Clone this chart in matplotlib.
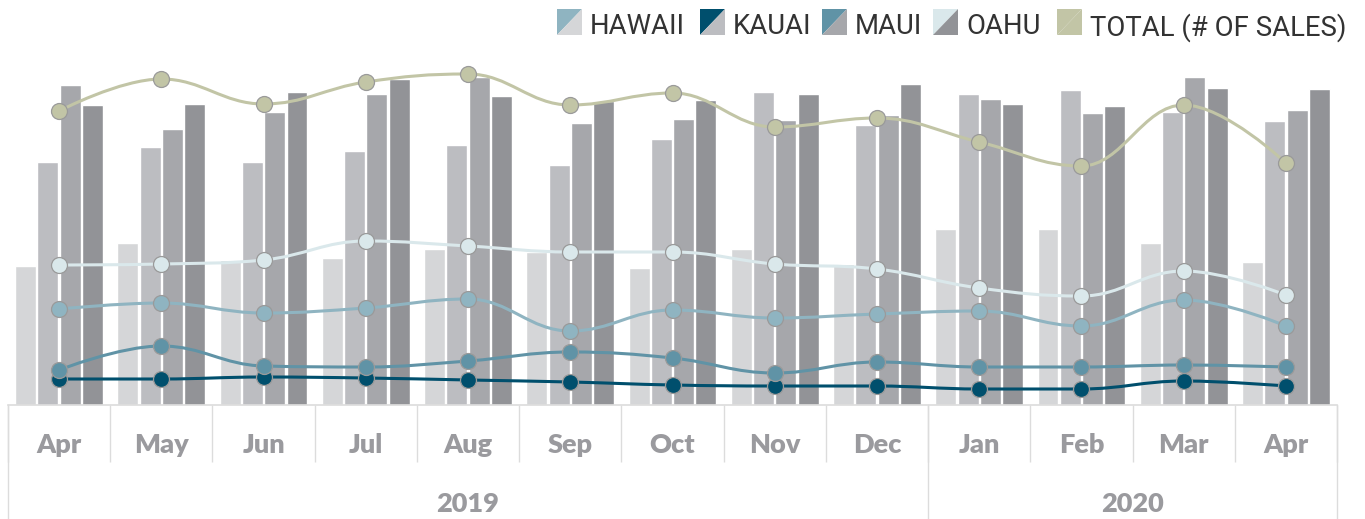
import numpy as np
import matplotlib
matplotlib.use('Agg')
import matplotlib.pyplot as plt
from matplotlib.path import Path
from matplotlib.patches import PathPatch, Polygon

# Monate (Apr 2019 - Apr 2020)
months = ['Apr', 'May', 'Jun', 'Jul', 'Aug', 'Sep', 'Oct', 'Nov', 'Dec',
          'Jan', 'Feb', 'Mar', 'Apr']
years = ['2019', '2020']
year_counts = [9, 4]

# Balken
hawaii_bar = [139, 162, 145, 147, 156, 153, 137, 156, 141, 176, 176, 162, 143]
kauai_bar = [243, 258, 243, 254, 260, 240, 266, 313, 280, 311, 315, 293, 284]
maui_bar = [320, 276, 293, 311, 328, 282, 286, 285, 290, 306, 292, 328, 295]
oahu_bar = [300, 301, 313, 326, 309, 304, 305, 311, 321, 301, 299, 317, 316]

# Linien (# of sales)
hawaii_line = [96, 102, 92, 97, 106, 74, 95, 87, 91, 94, 79, 105, 79]
kauai_line = [26, 26, 28, 27, 25, 23, 20, 19, 19, 16, 16, 24, 19]
maui_line = [35, 59, 39, 38, 44, 53, 47, 32, 43, 38, 38, 40, 38]
oahu_line = [140, 141, 145, 164, 159, 153, 153, 141, 136, 117, 109, 134, 110]
total_line = [294, 326, 301, 323, 331, 300, 312, 278, 287, 263, 239, 300, 242]

names = ['HAWAII', 'KAUAI', 'MAUI', 'OAHU', 'TOTAL (# OF SALES)']
bar_colors = ['#d5d6d8', '#bcbdc1', '#a6a7ab', '#929397']
line_colors = ['#8fb4c1', '#004f6d', '#6093a6', '#dae8eb', '#c2c5a6']


def spline_path(xs, ys, smoothing=1.5):
    # Spline wie bei Highcharts: Bezier-Kontrollpunkte aus Nachbarpunkten
    n = len(xs)
    left = [(xs[0], ys[0])] * n
    right = [(xs[0], ys[0])] * n
    for i in range(n):
        x, y = xs[i], ys[i]
        if i == 0 or i == n - 1:
            left[i] = (x, y)
            right[i] = (x, y)
            continue
        lx = (smoothing * x + xs[i - 1]) / (smoothing + 1)
        ly = (smoothing * y + ys[i - 1]) / (smoothing + 1)
        rx = (smoothing * x + xs[i + 1]) / (smoothing + 1)
        ry = (smoothing * y + ys[i + 1]) / (smoothing + 1)
        corr = (ry - ly) * (rx - x) / (rx - lx) + y - ry
        ly += corr
        ry += corr
        py, ny = ys[i - 1], ys[i + 1]
        if ly > py and ly > y:
            ly = max(py, y)
            ry = 2 * y - ly
        elif ly < py and ly < y:
            ly = min(py, y)
            ry = 2 * y - ly
        if ry > ny and ry > y:
            ry = max(ny, y)
            ly = 2 * y - ry
        elif ry < ny and ry < y:
            ry = min(ny, y)
            ly = 2 * y - ry
        left[i] = (lx, ly)
        right[i] = (rx, ry)
    verts = [(xs[0], ys[0])]
    codes = [Path.MOVETO]
    for i in range(1, n):
        verts += [right[i - 1], left[i], (xs[i], ys[i])]
        codes += [Path.CURVE4] * 3
    return Path(verts, codes)


W, H = 1365, 519
fig = plt.figure(figsize=(W / 100, H / 100), dpi=100)
ax = fig.add_axes([8 / W, (H - 405) / H, (1337 - 8) / W, 400 / H])

x = np.arange(len(months))
pitch = 0.218
bars = [hawaii_bar, kauai_bar, maui_bar, oahu_bar]
for k, vals in enumerate(bars):
    ax.bar(x + (k - 1.5) * pitch, vals, width=0.205, color=bar_colors[k],
           edgecolor='white', linewidth=1.0, zorder=2)

lines = [hawaii_line, kauai_line, maui_line, oahu_line, total_line]
for k, vals in enumerate(lines):
    p = spline_path(list(x.astype(float)), vals)
    ax.add_patch(PathPatch(p, facecolor='none', edgecolor=line_colors[k],
                           linewidth=2.2, zorder=3 + k))
    ax.plot(x, vals, linestyle='none', marker='o', markersize=11.5,
            markerfacecolor=line_colors[k], markeredgecolor='#9a9a9a',
            markeredgewidth=0.9, zorder=3 + k)

ax.set_xlim(-0.5, len(months) - 0.5)
ax.set_ylim(0, 400)
for s in ['top', 'left', 'right']:
    ax.spines[s].set_visible(False)
ax.spines['bottom'].set_color('#dcdcdc')
ax.spines['bottom'].set_linewidth(1.2)
ax.set_yticks([])

lab_font = dict(fontfamily='Lato', fontweight='heavy', fontsize=19.5,
                color='#9a9a9e')
ax.set_xticks(x)
ax.set_xticklabels(months, **lab_font)
ax.tick_params(axis='x', which='major', length=0, pad=20)
ax.set_xticks(np.arange(-0.5, len(months), 1.0), minor=True)
ax.tick_params(axis='x', which='minor', length=41, width=1.0, color='#dcdcdc',
               direction='out')

# Jahres-Trennlinien und Beschriftung
trans = ax.get_xaxis_transform()
edges = np.concatenate([[0], np.cumsum(year_counts)]) - 0.5
for e in edges:
    ax.plot([e, e], [0, -114 / 400], color='#dcdcdc', linewidth=1.0,
            transform=trans, clip_on=False)
for i, yr in enumerate(years):
    ax.text((edges[i] + edges[i + 1]) / 2, -99 / 400, yr, transform=trans,
            ha='center', va='center', **lab_font)

# Legende oben rechts (Symbol diagonal geteilt: Linie / Balken)
icon_x = [557, 700, 822, 933, 1057]
legend_bar = bar_colors + [line_colors[4]]
for k, name in enumerate(names):
    x0, x1 = icon_x[k] / W, (icon_x[k] + 25) / W
    y0, y1 = (H - 35) / H, (H - 9) / H
    fig.patches.append(Polygon([(x0, y0), (x0, y1), (x1, y1)], closed=True,
                               facecolor=line_colors[k], edgecolor='none',
                               transform=fig.transFigure))
    fig.patches.append(Polygon([(x0, y0), (x1, y1), (x1, y0)], closed=True,
                               facecolor=legend_bar[k], edgecolor='none',
                               transform=fig.transFigure))
    fig.text((icon_x[k] + 33) / W, (H - 24) / H, name, ha='left',
             va='center_baseline', fontfamily='Roboto', fontsize=19.8,
             color='#333333')

fig.savefig('out.png', dpi=100)
